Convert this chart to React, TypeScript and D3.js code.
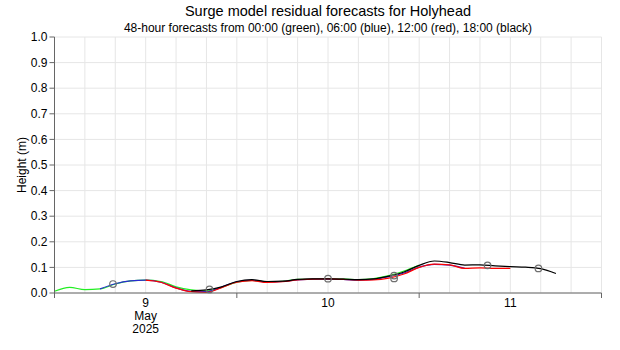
import React from 'react'
import * as d3 from 'd3'

// forecast lead times (hours, every 2h over 48h)
const leadHours = d3.range(0, 49, 2)

// forecast start hours after 9 May 2025 00:00 UTC
const runStarts = [0, 6, 12, 18]
const runColors = ['#22ee22', '#2a2ad0', '#ff0000', '#000000']

const green00 = [0.007, 0.022, 0.013, 0.016, 0.035, 0.047, 0.050, 0.045, 0.024, 0.012, 0.008, 0.022, 0.042, 0.049, 0.044, 0.046, 0.053, 0.055, 0.056, 0.055, 0.052, 0.056, 0.068, 0.086, 0.108]
const blue06 = [0.016, 0.036, 0.047, 0.050, 0.042, 0.020, 0.006, 0.005, 0.023, 0.044, 0.050, 0.043, 0.045, 0.051, 0.054, 0.054, 0.053, 0.050, 0.053, 0.064, 0.078, 0.101, 0.112, 0.109, 0.096]
const red12 = [0.050, 0.042, 0.019, 0.005, 0.002, 0.021, 0.042, 0.048, 0.041, 0.044, 0.051, 0.054, 0.055, 0.053, 0.050, 0.051, 0.058, 0.074, 0.100, 0.113, 0.110, 0.096, 0.098, 0.096, 0.096]
const black18 = [0.008, 0.012, 0.024, 0.045, 0.052, 0.045, 0.046, 0.053, 0.055, 0.055, 0.054, 0.052, 0.055, 0.066, 0.082, 0.108, 0.125, 0.119, 0.109, 0.110, 0.106, 0.103, 0.101, 0.095, 0.076]
const runs = [green00, blue06, red12, black18]

// marked points (hours after 9 May 00:00, height)
const markHours = [7.7, 20.4, 36, 44.7, 44.7, 57, 63.7]
const markValues = [0.035, 0.014, 0.056, 0.068, 0.057, 0.108, 0.096]

const yTicks = [0, 0.1, 0.2, 0.3, 0.4, 0.5, 0.6, 0.7, 0.8, 0.9, 1.0]

const W = 620
const H = 350
const margin = { top: 37, right: 18.5, bottom: 57, left: 54.5 }
const font = 'Liberation Sans, Arial, sans-serif'

const t0 = Date.UTC(2025, 4, 9)
const hourMs = 3600 * 1000

const App: React.FC = () => {
  const x = d3.scaleUtc()
    .domain([new Date(t0), new Date(Date.UTC(2025, 4, 12))])
    .range([margin.left, W - margin.right])
  const y = d3.scaleLinear().domain([0, 1]).range([H - margin.bottom, margin.top])

  const gridTimes = x.ticks(d3.utcHour.every(4) as d3.TimeInterval)
  const dayTimes = x.ticks(d3.utcDay.every(1) as d3.TimeInterval)
  const labelDays = dayTimes.slice(0, -1)

  const line = d3.line<[number, number]>()
    .x(d => x(new Date(t0 + d[0] * hourMs)))
    .y(d => y(d[1]))
    .curve(d3.curveMonotoneX)

  const x0 = margin.left
  const x1 = W - margin.right
  const yBase = H - margin.bottom

  return (
    <svg width={W} height={H} style={{ position: 'absolute', left: 0, top: 0, background: '#fff' }} fontFamily={font}>
      <text x={(x0 + x1) / 2} y={16} textAnchor="middle" fontSize={14.5}>Surge model residual forecasts for Holyhead</text>
      <text x={(x0 + x1) / 2} y={32} textAnchor="middle" fontSize={12}>48-hour forecasts from 00:00 (green), 06:00 (blue), 12:00 (red), 18:00 (black)</text>

      {/* grid */}
      {gridTimes.map((d, i) => (
        <line key={'gx' + i} x1={x(d)} x2={x(d)} y1={margin.top} y2={yBase} stroke="#e6e6e6" strokeWidth={1} />
      ))}
      {yTicks.map((v, i) => (
        <line key={'gy' + i} x1={x0} x2={x1} y1={y(v)} y2={y(v)} stroke="#e6e6e6" strokeWidth={1} />
      ))}

      {/* forecast lines */}
      {runs.map((vals, r) => (
        <path key={'run' + r}
          d={line(vals.map((v, i) => [runStarts[r] + leadHours[i], v] as [number, number])) || ''}
          fill="none" stroke={runColors[r]} strokeWidth={1.2} />
      ))}

      {markHours.map((h, i) => (
        <circle key={'m' + i} cx={x(new Date(t0 + h * hourMs))} cy={y(markValues[i])} r={3.3}
          fill="none" stroke="#707070" strokeWidth={1.2} />
      ))}

      {/* y axis */}
      <line x1={x0} x2={x0} y1={margin.top} y2={yBase} stroke="#666" strokeWidth={1} />
      {yTicks.map((v, i) => (
        <g key={'yt' + i}>
          <line x1={x0 - 5} x2={x0} y1={y(v)} y2={y(v)} stroke="#666" />
          <text x={x0 - 7} y={y(v)} dy="0.35em" textAnchor="end" fontSize={12}>{v.toFixed(1)}</text>
        </g>
      ))}
      <text transform={`translate(26,${(margin.top + yBase) / 2}) rotate(-90)`} textAnchor="middle" fontSize={12}>Height (m)</text>

      {/* x axis */}
      <line x1={x0} x2={x1} y1={yBase} y2={yBase} stroke="#666" strokeWidth={1} />
      {dayTimes.map((d, i) => (
        <line key={'xt' + i} x1={x(d)} x2={x(d)} y1={yBase} y2={yBase + 5} stroke="#666" />
      ))}
      {labelDays.map((d, i) => {
        const cx = x(d3.utcHour.offset(d, 12))
        return (
          <text key={'xl' + i} x={cx} y={yBase + 14} textAnchor="middle" fontSize={12}>
            <tspan x={cx}>{d3.utcFormat('%-d')(d)}</tspan>
            {i === 0 && <tspan x={cx} dy={13}>{d3.utcFormat('%B')(d)}</tspan>}
            {i === 0 && <tspan x={cx} dy={13}>{d3.utcFormat('%Y')(d)}</tspan>}
          </text>
        )
      })}
    </svg>
  )
}

export default App
